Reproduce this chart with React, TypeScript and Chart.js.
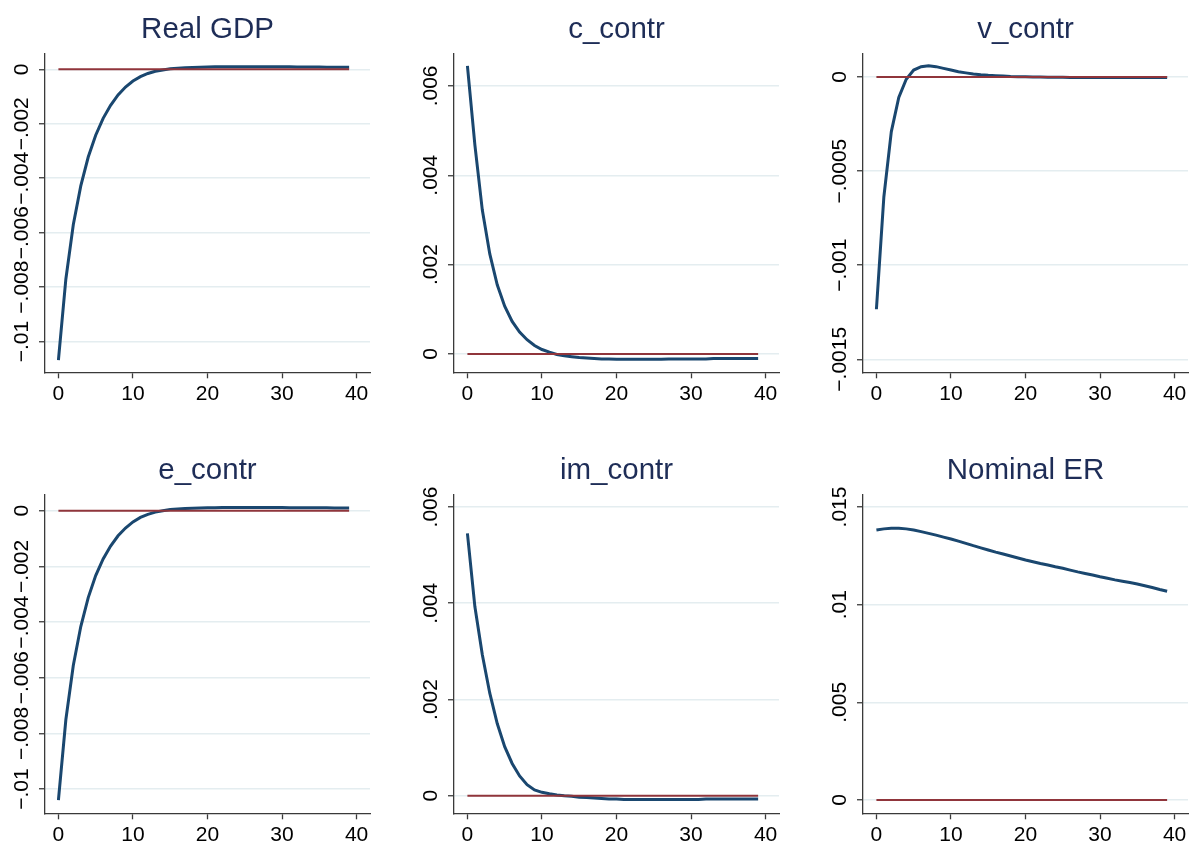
import React, { useEffect, useRef } from "react";
import { Chart, registerables } from "chart.js";

Chart.register(...registerables);

// Horizons (periods after the shock)
const horizons = [
  0, 1, 2, 3, 4, 5, 6, 7, 8, 9,
  10, 11, 12, 13, 14, 15, 16, 17, 18, 19,
  20, 21, 22, 23, 24, 25, 26, 27, 28, 29,
  30, 31, 32, 33, 34, 35, 36, 37, 38, 39,
];

// Zero reference line
const zeroLineX = [0, 39];
const zeroLineY = [0, 0];

// Impulse responses
const realGdp = [
  -0.01068, -0.0077, -0.0057, -0.00428, -0.00322, -0.00242, -0.0018, -0.00132, -0.00094, -0.00065,
  -0.00043, -0.00027, -0.00015, -0.00007, -0.00002, 0.00002, 0.00004, 0.00006, 0.00007, 0.00008,
  0.00009, 0.0001, 0.0001, 0.0001, 0.0001, 0.0001, 0.0001, 0.0001, 0.0001, 0.0001,
  0.0001, 0.0001, 0.00009, 0.00009, 0.00009, 0.00009, 0.00008, 0.00008, 0.00008, 0.00008,
];

const cContr = [
  0.00645, 0.00468, 0.00322, 0.00224, 0.00155, 0.00107, 0.00073, 0.00049, 0.00032, 0.00019,
  0.0001, 0.00004, -0.00001, -0.00004, -0.00006, -0.00008, -0.00009, -0.0001, -0.00011, -0.00011,
  -0.00012, -0.00012, -0.00012, -0.00012, -0.00012, -0.00012, -0.00012, -0.00011, -0.00011, -0.00011,
  -0.00011, -0.00011, -0.00011, -0.0001, -0.0001, -0.0001, -0.0001, -0.0001, -0.0001, -0.0001,
];

const vContr = [
  -0.001234, -0.000636, -0.00029, -0.000108, -0.000012, 0.000037, 0.000055, 0.00006, 0.000055, 0.000046,
  0.000037, 0.000028, 0.000022, 0.000016, 0.000012, 0.000009, 0.000007, 0.000005, 0.000003, 0.000002,
  0.000001, 0.0, 0.0, -0.000001, -0.000001, -0.000001, -0.000002, -0.000002, -0.000002, -0.000002,
  -0.000002, -0.000002, -0.000002, -0.000002, -0.000002, -0.000002, -0.000002, -0.000002, -0.000002, -0.000002,
];

const eContr = [
  -0.0104, -0.0075, -0.00555, -0.00416, -0.00312, -0.00233, -0.00173, -0.00127, -0.0009, -0.00062,
  -0.0004, -0.00024, -0.00013, -0.00005, 0.0, 0.00004, 0.00006, 0.00008, 0.00009, 0.0001,
  0.00011, 0.00011, 0.00012, 0.00012, 0.00012, 0.00012, 0.00012, 0.00012, 0.00012, 0.00012,
  0.00012, 0.00011, 0.00011, 0.00011, 0.00011, 0.00011, 0.00011, 0.0001, 0.0001, 0.0001,
];

const imContr = [
  0.00545, 0.00393, 0.00293, 0.00213, 0.0015, 0.00102, 0.00067, 0.00041, 0.00023, 0.00012,
  0.00007, 0.00004, 0.000015, 0.0, -0.00001, -0.00003, -0.00004, -0.00005, -0.00006, -0.00007,
  -0.00007, -0.00008, -0.00008, -0.00008, -0.00008, -0.00008, -0.00008, -0.00008, -0.00008, -0.00008,
  -0.00008, -0.00008, -0.00007, -0.00007, -0.00007, -0.00007, -0.00007, -0.00007, -0.00007, -0.00007,
];

const nominalEr = [
  0.01382, 0.01388, 0.01391, 0.01391, 0.01388, 0.01382, 0.01374, 0.01365, 0.01356, 0.01346,
  0.01336, 0.01325, 0.01314, 0.01302, 0.01291, 0.0128, 0.01269, 0.01259, 0.01249, 0.01239,
  0.01229, 0.0122, 0.01211, 0.01203, 0.01194, 0.01186, 0.01177, 0.01168, 0.0116, 0.01152,
  0.01143, 0.01135, 0.01127, 0.0112, 0.01113, 0.01106, 0.01097, 0.01088, 0.01078, 0.01069,
];

// Axis ticks
const xTicks = [0, 10, 20, 30, 40];
const xTickLabels = ["0", "10", "20", "30", "40"];

const outputTicks = [-0.01, -0.008, -0.006, -0.004, -0.002, 0];
const outputTickLabels = ["\u2212.01", "\u2212.008", "\u2212.006", "\u2212.004", "\u2212.002", "0"];
const contrTicks = [0, 0.002, 0.004, 0.006];
const contrTickLabels = ["0", ".002", ".004", ".006"];
const vTicks = [-0.0015, -0.001, -0.0005, 0];
const vTickLabels = ["\u2212.0015", "\u2212.001", "\u2212.0005", "0"];
const erTicks = [0, 0.005, 0.01, 0.015];
const erTickLabels = ["0", ".005", ".01", ".015"];

const FONT = '"Liberation Sans", Arial, Helvetica, sans-serif';
const BLUE = "#1a476f";
const RED = "#90353b";
const AXIS = "#3a3a3a";
const GRID = "#e4edf0";
const TITLE = "#1e2d57";

const PANEL_W = 410;
const PANEL_H = 420;

type Panel = {
  title: string;
  values: number[];
  ticks: number[];
  tickLabels: string[];
  yMin: number;
  yMax: number;
  left: number;
  top: number;
};

const panels: Panel[] = [
  { title: "Real GDP", values: realGdp, ticks: outputTicks, tickLabels: outputTickLabels, yMin: -0.01113, yMax: 0.00059, left: 0, top: 0 },
  { title: "c_contr", values: cContr, ticks: contrTicks, tickLabels: contrTickLabels, yMin: -0.00041, yMax: 0.00673, left: 409, top: 0 },
  { title: "v_contr", values: vContr, ticks: vTicks, tickLabels: vTickLabels, yMin: -0.001569, yMax: 0.000126, left: 818, top: 0 },
  { title: "e_contr", values: eContr, ticks: outputTicks, tickLabels: outputTickLabels, yMin: -0.01087, yMax: 0.00059, left: 0, top: 441 },
  { title: "im_contr", values: imContr, ticks: contrTicks, tickLabels: contrTickLabels, yMin: -0.000366, yMax: 0.006264, left: 409, top: 441 },
  { title: "Nominal ER", values: nominalEr, ticks: erTicks, tickLabels: erTickLabels, yMin: -0.00068, yMax: 0.01565, left: 818, top: 441 },
];

// Vertical-axis labels are written rotated, reading upward, centred on each tick
function rotatedYLabels(labels: string[]) {
  return {
    id: "rotatedYLabels",
    afterDraw(chart: any) {
      const scale = chart.scales.y;
      const ctx = chart.ctx;
      ctx.save();
      ctx.font = `21px ${FONT}`;
      ctx.fillStyle = "#000";
      ctx.textAlign = "center";
      ctx.textBaseline = "middle";
      scale.ticks.forEach((t: any, i: number) => {
        const y = scale.getPixelForValue(t.value);
        ctx.save();
        ctx.translate(scale.right - 23, y);
        ctx.rotate(-Math.PI / 2);
        ctx.fillText(labels[i], 0, 0);
        ctx.restore();
      });
      ctx.restore();
    },
  };
}

function IrfPanel({ panel }: { panel: Panel }) {
  const ref = useRef<HTMLCanvasElement | null>(null);

  useEffect(() => {
    if (!ref.current) return;
    const chart = new Chart(ref.current, {
      type: "line",
      data: {
        datasets: [
          {
            label: "zero",
            data: zeroLineX.map((x, i) => ({ x, y: zeroLineY[i] })),
            borderColor: RED,
            borderWidth: 2,
            pointRadius: 0,
            tension: 0,
          },
          {
            label: panel.title,
            data: horizons.map((x, i) => ({ x, y: panel.values[i] })),
            borderColor: BLUE,
            borderWidth: 3,
            pointRadius: 0,
            tension: 0,
          },
        ],
      },
      options: {
        responsive: false,
        animation: false,
        events: [],
        devicePixelRatio: 1,
        layout: { padding: { left: 0, top: 0, right: 40, bottom: 7.7 }, autoPadding: false },
        plugins: {
          legend: { display: false },
          tooltip: { enabled: false },
          title: {
            display: true,
            text: panel.title,
            fullSize: false,
            color: TITLE,
            font: { family: FONT, size: 29.5, weight: "normal", lineHeight: 1.2 },
            padding: { top: 12.3, bottom: 5.6 },
          },
        },
        scales: {
          x: {
            type: "linear",
            min: -1.8,
            max: 41.8,
            afterBuildTicks: (s: any) => {
              s.ticks = xTicks.map((v) => ({ value: v }));
            },
            afterFit: (s: any) => {
              s.height = 40;
            },
            grid: {
              drawOnChartArea: false,
              drawTicks: true,
              tickLength: 6,
              tickColor: AXIS,
              tickWidth: 1.3,
            },
            border: { display: true, color: AXIS, width: 1.3 },
            ticks: {
              color: "#000",
              font: { family: FONT, size: 21 },
              padding: 3,
              maxRotation: 0,
              autoSkip: false,
              callback: (_v: any, i: number) => xTickLabels[i],
            },
          },
          y: {
            type: "linear",
            min: panel.yMin,
            max: panel.yMax,
            afterBuildTicks: (s: any) => {
              s.ticks = panel.ticks.map((v) => ({ value: v }));
            },
            afterFit: (s: any) => {
              s.width = 45;
            },
            grid: {
              color: GRID,
              lineWidth: 1.5,
              drawTicks: true,
              tickLength: 6,
              tickColor: AXIS,
              tickWidth: 1.3,
            },
            border: { display: true, color: AXIS, width: 1.3 },
            ticks: { display: false },
          },
        },
      } as any,
      plugins: [rotatedYLabels(panel.tickLabels)],
    });
    return () => chart.destroy();
  }, [panel]);

  return (
    <div style={{ position: "absolute", left: panel.left, top: panel.top, width: PANEL_W, height: PANEL_H }}>
      <canvas ref={ref} width={PANEL_W} height={PANEL_H} style={{ display: "block", width: PANEL_W, height: PANEL_H }} />
    </div>
  );
}

export default function App() {
  return (
    <div
      style={{
        position: "fixed",
        left: 0,
        top: 0,
        width: 1189,
        height: 846,
        overflow: "hidden",
        background: "#ffffff",
      }}
    >
      {panels.map((p) => (
        <IrfPanel key={p.title} panel={p} />
      ))}
    </div>
  );
}
